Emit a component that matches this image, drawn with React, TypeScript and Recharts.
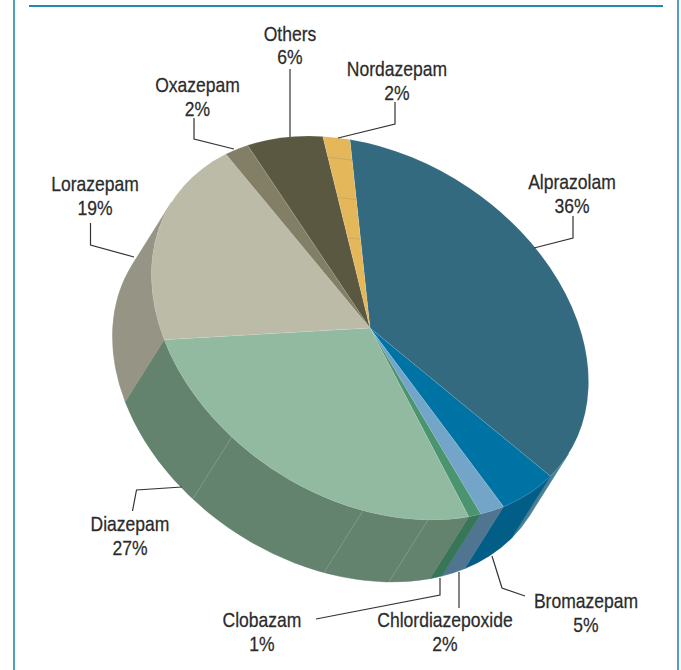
import { PieChart, Pie } from 'recharts'

const drugNames = [
  'Alprazolam',
  'Bromazepam',
  'Chlordiazepoxide',
  'Clobazam',
  'Diazepam',
  'Lorazepam',
  'Oxazepam',
  'Others',
  'Nordazepam',
]
const shares = [36, 5, 2, 1, 27, 19, 2, 6, 2]
const topColors = ['#336a80', '#0073a5', '#73a5c9', '#4a9470', '#92baa0', '#bbbba8', '#827f66', '#5a5840', '#e4b85a']
const wallColors = ['#4a7f95', '#025e87', '#4f7590', '#377659', '#63836f', '#969484', '#6c6a54', '#4a4834', '#c09a48']

const chartData = drugNames.map(function (name, i) {
  return { name: name, value: shares[i], fill: topColors[i], wallFill: wallColors[i] }
})

// text centre, baselines and leader line for each slice label
const labelLayout: Record<string, { x: number; y1: number; y2: number; leader: number[][] }> = {
  Alprazolam: { x: 572, y1: 189, y2: 213, leader: [[573, 216], [573, 238], [534, 248]] },
  Bromazepam: { x: 586, y1: 608, y2: 632, leader: [[525, 596], [502, 588], [492, 556]] },
  Chlordiazepoxide: { x: 445, y1: 627, y2: 651, leader: [[459, 608], [459, 572]] },
  Clobazam: { x: 262, y1: 627, y2: 651, leader: [[316, 619], [440, 595], [440, 578]] },
  Diazepam: { x: 130, y1: 531, y2: 555, leader: [[132.5, 511], [136.5, 490], [182, 487]] },
  Lorazepam: { x: 95, y1: 191, y2: 215, leader: [[90.5, 223], [90.5, 245], [134, 257]] },
  Oxazepam: { x: 197.5, y1: 92, y2: 116, leader: [[194, 118], [194, 139], [234, 149]] },
  Others: { x: 290, y1: 41, y2: 64, leader: [[290, 69], [290, 137]] },
  Nordazepam: { x: 397, y1: 76, y2: 100, leader: [[395, 102], [395, 124], [338, 138]] },
}

const CX = 370
const CY = 328
const RADIUS = 235
const MINOR_RATIO = 171.5 / 235
const TILT = 32.5
const DROP = { x: -39, y: 62 }
const START_ANGLE = 120.2
const SEAM_ANGLES = [49.7, 66.9, 104.3]
const RING_SLICE = 'Nordazepam'
const RING_FRACTIONS = [0.89, 0.68, 0.47]
const TEXT_SQUEEZE = 0.835

const tiltRad = (TILT * Math.PI) / 180

// circle angle (clockwise on screen) to a point on the tilted rim
function rimPoint(deg: number, r: number) {
  const t = (deg * Math.PI) / 180
  const ex = r * Math.cos(t)
  const ey = r * MINOR_RATIO * Math.sin(t)
  return {
    x: CX + ex * Math.cos(tiltRad) - ey * Math.sin(tiltRad),
    y: CY + ex * Math.sin(tiltRad) + ey * Math.cos(tiltRad),
  }
}

// the side wall only shows on the half of the rim facing the extrusion
function facingAngle(r: number) {
  const u1 = DROP.x * Math.cos(tiltRad) + DROP.y * Math.sin(tiltRad)
  const u2 = -DROP.x * Math.sin(tiltRad) + DROP.y * Math.cos(tiltRad)
  return (Math.atan2(u2 / (r * MINOR_RATIO), u1 / r) * 180) / Math.PI
}

function TopFace(props: any) {
  const { outerRadius: r, startAngle, endAngle, fill, name } = props
  const a = rimPoint(-startAngle, r)
  const b = rimPoint(-endAngle, r)
  const large = Math.abs(endAngle - startAngle) > 180 ? 1 : 0
  const d = `M${CX},${CY} L${a.x},${a.y} A${r},${r * MINOR_RATIO} ${TILT} ${large} 1 ${b.x},${b.y} Z`
  const rings = name === RING_SLICE ? RING_FRACTIONS : []
  return (
    <g>
      <path d={d} fill={fill} stroke="#ffffff" strokeOpacity={0.2} strokeWidth={0.5} />
      {rings.map(function (f) {
        const p = rimPoint(-startAngle, r * f)
        const q = rimPoint(-endAngle, r * f)
        return (
          <path
            key={f}
            d={`M${p.x},${p.y} A${r * f},${r * f * MINOR_RATIO} ${TILT} 0 1 ${q.x},${q.y}`}
            fill="none"
            stroke="#c4a25c"
            strokeWidth={0.7}
          />
        )
      })}
    </g>
  )
}

function SideWall(props: any) {
  const { outerRadius: r, startAngle, endAngle, wallFill } = props
  const phi = facingAngle(r)
  const from = Math.max(-startAngle, phi - 90)
  const to = Math.min(-endAngle, phi + 90)
  if (to <= from) return null
  const a = rimPoint(from, r)
  const b = rimPoint(to, r)
  const ry = r * MINOR_RATIO
  const d =
    `M${a.x},${a.y} A${r},${ry} ${TILT} 0 1 ${b.x},${b.y} ` +
    `L${b.x + DROP.x},${b.y + DROP.y} A${r},${ry} ${TILT} 0 0 ${a.x + DROP.x},${a.y + DROP.y} Z`
  const seams = SEAM_ANGLES.filter(function (s) {
    return s > from && s < to
  })
  return (
    <g>
      <path d={d} fill={wallFill} stroke={wallFill} strokeWidth={0.5} />
      {seams.map(function (s) {
        const p = rimPoint(s, r)
        return (
          <line
            key={s}
            x1={p.x}
            y1={p.y}
            x2={p.x + DROP.x}
            y2={p.y + DROP.y}
            stroke="#ffffff"
            strokeOpacity={0.25}
            strokeWidth={0.7}
          />
        )
      })}
    </g>
  )
}

function SliceLabel(props: any) {
  const layout = labelLayout[props.name]
  // the installed sans has no condensed cut, so the text is narrowed horizontally
  return (
    <text
      transform={`translate(${layout.x},0) scale(${TEXT_SQUEEZE},1)`}
      textAnchor="middle"
      fontFamily="'Liberation Sans', sans-serif"
      fontSize={21}
      fill="#2b2b2b"
      stroke="#2b2b2b"
      strokeWidth={0.25}
    >
      <tspan x={0} y={layout.y1}>{props.name}</tspan>
      <tspan x={0} y={layout.y2}>{props.value}%</tspan>
    </text>
  )
}

function LeaderLine(props: any) {
  const layout = labelLayout[props.name]
  const pts = layout.leader.map(function (p) { return p.join(',') }).join(' ')
  return <polyline points={pts} fill="none" stroke="#333333" strokeWidth={1.2} />
}

export default function App() {
  return (
    <div style={{ position: 'absolute', left: 0, top: 0, width: 681, height: 670, background: '#fff', overflow: 'hidden' }}>
      <div style={{ position: 'absolute', left: 13, top: 0, width: 2, height: 670, background: '#4f9fc4' }} />
      <div style={{ position: 'absolute', left: 677, top: 0, width: 2, height: 670, background: '#4f9fc4' }} />
      <div style={{ position: 'absolute', left: 29, top: 5, width: 634, height: 2, background: '#1f8bb5' }} />
      <div style={{ position: 'absolute', left: 0, top: 0 }}>
        <PieChart width={681} height={670} margin={{ top: 0, right: 0, bottom: 0, left: 0 }}>
          <Pie
            data={chartData}
            dataKey="value"
            nameKey="name"
            cx={CX}
            cy={CY}
            outerRadius={RADIUS}
            startAngle={START_ANGLE}
            endAngle={START_ANGLE - 360}
            shape={SideWall}
            isAnimationActive={false}
          />
          <Pie
            data={chartData}
            dataKey="value"
            nameKey="name"
            cx={CX}
            cy={CY}
            outerRadius={RADIUS}
            startAngle={START_ANGLE}
            endAngle={START_ANGLE - 360}
            shape={TopFace}
            label={SliceLabel}
            labelLine={LeaderLine}
            isAnimationActive={false}
          />
        </PieChart>
      </div>
    </div>
  )
}
